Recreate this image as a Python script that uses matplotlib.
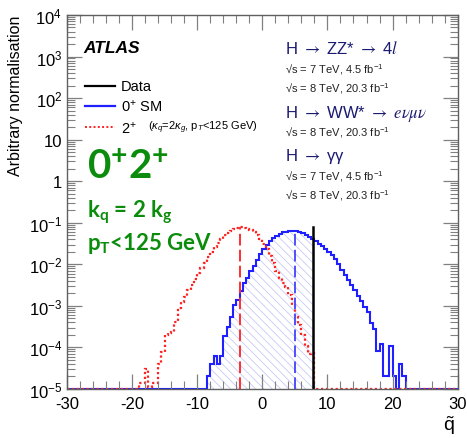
import matplotlib
matplotlib.use('Agg')
import matplotlib.pyplot as plt
import numpy as np
from matplotlib.ticker import MultipleLocator, LogLocator, FuncFormatter, NullFormatter

plt.rcParams['font.family'] = ['Liberation Sans', 'DejaVu Sans']
plt.rcParams['mathtext.fontset'] = 'custom'
plt.rcParams['mathtext.rm'] = 'Liberation Sans'
plt.rcParams['mathtext.it'] = 'Liberation Sans:italic'
plt.rcParams['mathtext.bf'] = 'Lato:bold'
plt.rcParams['hatch.linewidth'] = 0.6

# histograms: log10 of bin content, 0.5 wide bins, None = empty bin
bin_width = 0.5
blue_first = -8.5
blue_log = [-4.69, -4.40, -4.21, -4.40, -4.21, -3.73, -3.51, -3.26, -2.98, -2.86,
            -2.65, -2.45, -2.33, -2.15, -2.04, -1.90, -1.76, -1.63, -1.53, -1.44,
            -1.37, -1.31, -1.26, -1.23, -1.21, -1.19, -1.19, -1.20, -1.22, -1.25,
            -1.29, -1.34, -1.39, -1.45, -1.50, -1.56, -1.62, -1.70, -1.78, -1.88,
            -2.00, -2.13, -2.25, -2.37, -2.50, -2.62, -2.76, -2.88, -3.02, -3.14,
            -3.40, -3.55, -4.08, -3.91, -4.69, -4.69, -3.97, -4.69, None, -4.40,
            -4.69]
red_first = -19.0
red_log = [-4.85, -4.85, -4.53, -4.95, -4.85, -4.85, -4.40, -4.12, -3.71, -3.66,
           -3.62, -3.38, -3.06, -2.90, -2.78, -2.62, -2.50, -2.35, -2.22, -2.08,
           -1.96, -1.82, -1.70, -1.58, -1.48, -1.38, -1.30, -1.24, -1.19, -1.15,
           -1.12, -1.11, -1.12, -1.15, -1.18, -1.23, -1.30, -1.38, -1.50, -1.64,
           -1.80, -1.96, -2.16, -2.33, -2.45, -2.55, -2.74, -2.98, -3.26, -3.47,
           -3.71, -3.96, -4.16, -4.13]
data_x = 7.75
data_top = 0.08
median_0p = 5.0
median_2p = -3.5

x_min, x_max = -30, 30
y_min, y_max = 1e-5, 1e4

edges = np.arange(x_min, x_max + 0.001, bin_width)


def full_hist(first, logs):
    vals = np.full(len(edges) - 1, y_min)
    i0 = int(round((first - x_min) / bin_width))
    for k, v in enumerate(logs):
        if v is not None:
            vals[i0 + k] = 10 ** v
    return vals


def value_at(vals, x):
    i = np.searchsorted(edges, x, side='right') - 1
    return vals[i]


blue = full_hist(blue_first, blue_log)
red = full_hist(red_first, red_log)

blue_c = '#1f1fff'
red_c = '#ff2020'

fig = plt.figure(figsize=(4.67, 4.39), dpi=100)
ax = fig.add_axes([0.1435, 0.1116, 0.8365, 0.852])
ax.set_yscale('log')
ax.set_xlim(x_min, x_max)
ax.set_ylim(y_min, y_max)

# hatched area of 0+ left of data
left = edges[:-1] < data_x
xs = np.append(edges[:-1][left], data_x)
ys = np.append(blue[left], blue[left][-1])
ax.fill_between(xs, ys, y_min, step='post', facecolor='none',
                edgecolor='#c9c9f5', hatch='\\\\\\\\', linewidth=0)

# filled area of 2+ right of data
right = (edges[1:] > data_x) & (red > y_min)
xs = np.concatenate([[data_x], edges[:-1][right][1:], [edges[1:][right][-1]]])
ys = np.append(red[right], red[right][-1])
ax.fill_between(xs, ys, y_min, step='post', facecolor=red_c,
                edgecolor=red_c, linewidth=0)

ax.stairs(blue, edges, baseline=y_min, color=blue_c, lw=1.5)
ax.stairs(red, edges, baseline=y_min, color=red_c, lw=1.6,
          linestyle=(0, (1, 1.2)))

ax.plot([median_0p, median_0p], [y_min, value_at(blue, median_0p)],
        color='#5050ff', lw=1.4, linestyle=(0, (6, 2.2)))
ax.plot([median_2p, median_2p], [y_min, value_at(red, median_2p)],
        color='#ff3030', lw=1.4, linestyle=(0, (6, 2.2)))
ax.plot([data_x, data_x], [y_min, data_top], color='black', lw=1.8)

# axes styling
ax.xaxis.set_major_locator(MultipleLocator(10))
ax.xaxis.set_minor_locator(MultipleLocator(2))
ax.yaxis.set_major_locator(LogLocator(base=10, numticks=20))
ax.yaxis.set_minor_locator(LogLocator(base=10, subs=np.arange(2, 10), numticks=20))
ax.yaxis.set_minor_formatter(NullFormatter())


def ylab(v, pos):
    e = int(round(np.log10(v)))
    if e == 0:
        return '1'
    if e == 1:
        return '10'
    return r'$10^{%d}$' % e


ax.yaxis.set_major_formatter(FuncFormatter(ylab))
ax.xaxis.set_major_formatter(FuncFormatter(lambda v, p: '%d' % v))
ax.tick_params(which='both', direction='in', top=True, right=True,
               color='#808080', labelsize=12)
ax.tick_params(axis='x', pad=5)
ax.tick_params(which='major', length=11, width=0.9)
ax.tick_params(which='minor', length=5.5, width=0.8)
for s in ax.spines.values():
    s.set_color('#606060')
    s.set_linewidth(1.0)

ax.set_ylabel('Arbitrary normalisation', fontsize=11.5, loc='top', labelpad=4)
fig.text(0.962, 0.004, r'$\tilde{\mathrm{q}}$', fontsize=14, ha='center', va='bottom')

tr = ax.transAxes
ax.text(0.041, 0.914, 'ATLAS', transform=tr, fontsize=12.5, fontweight='bold',
        style='italic', va='center')

# legend
leg_x0, leg_x1, leg_tx = 0.046, 0.123, 0.138
ax.plot([leg_x0, leg_x1], [0.810, 0.810], transform=tr, color='black', lw=1.6)
ax.text(leg_tx, 0.810, 'Data', transform=tr, fontsize=10.5, va='center')
ax.plot([leg_x0, leg_x1], [0.757, 0.757], transform=tr, color=blue_c, lw=1.6)
ax.text(leg_tx, 0.757, r'0$^{+}$ SM', transform=tr, fontsize=10.5, va='center')
ax.plot([leg_x0, leg_x1], [0.700, 0.700], transform=tr, color=red_c, lw=1.4,
        linestyle=(0, (1, 1.2)))
ax.text(leg_tx, 0.700, r'2$^{+}$', transform=tr, fontsize=10.5, va='center')
ax.text(0.207, 0.700, r'($\kappa_q$=2$\kappa_g$, p$_T$<125 GeV)', transform=tr,
        fontsize=8, va='center')

# green annotation
green = '#0c8c0c'
gfont = dict(family=['Lato', 'DejaVu Sans'], fontweight='bold', color=green,
             va='center', transform=tr)
ax.text(0.050, 0.594, r'$\mathbf{0^{+}2^{+}}$', fontsize=29, **gfont)
ax.text(0.050, 0.476, r'$\mathbf{k_q}$ = 2 $\mathbf{k_g}$', fontsize=16, **gfont)
ax.text(0.050, 0.393, r'$\mathbf{p_T}$<125 GeV', fontsize=16, **gfont)

# channels block
navy = '#1a1a70'
sub = '#222222'
rx = 0.558
ax.text(rx, 0.914, r'H $\rightarrow$ ZZ* $\rightarrow$ 4$\mathit{l}$', transform=tr,
        fontsize=12, color=navy, va='center', math_fontfamily='stix')
ax.text(rx, 0.856, '\u221as = 7 TeV, 4.5 fb$^{-1}$', transform=tr, fontsize=8,
        color=sub, va='center')
ax.text(rx, 0.807, '\u221as = 8 TeV, 20.3 fb$^{-1}$', transform=tr, fontsize=8,
        color=sub, va='center')
ax.text(rx, 0.738, r'H $\rightarrow$ WW* $\rightarrow$ $e\nu\mu\nu$', transform=tr,
        fontsize=12, color=navy, va='center', math_fontfamily='stix')
ax.text(rx, 0.687, '\u221as = 8 TeV, 20.3 fb$^{-1}$', transform=tr, fontsize=8,
        color=sub, va='center')
ax.text(rx, 0.623, 'H $\\rightarrow$ \u03b3\u03b3', transform=tr,
        fontsize=12, color=navy, va='center', math_fontfamily='stix')
ax.text(rx, 0.570, '\u221as = 7 TeV, 4.5 fb$^{-1}$', transform=tr, fontsize=8,
        color=sub, va='center')
ax.text(rx, 0.521, '\u221as = 8 TeV, 20.3 fb$^{-1}$', transform=tr, fontsize=8,
        color=sub, va='center')

fig.savefig('out.png', dpi=100)
